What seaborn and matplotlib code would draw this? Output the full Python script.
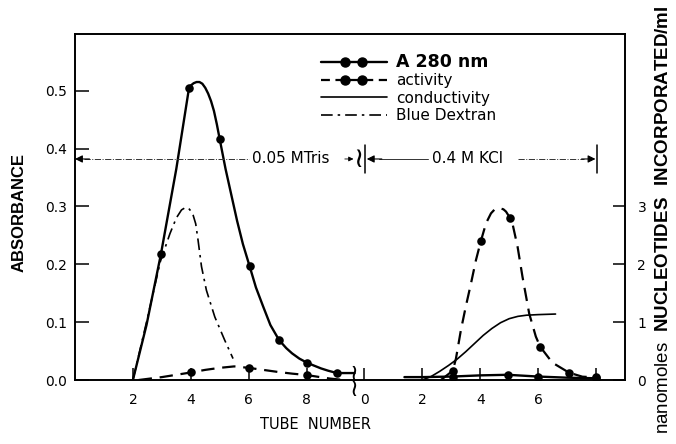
import matplotlib
matplotlib.use("Agg")
import matplotlib.pyplot as plt
import seaborn as sns
from matplotlib.lines import Line2D
from matplotlib.legend_handler import HandlerLine2D, HandlerTuple

# the 0.4 M KCl run is drawn 10 tube widths to the right of the Tris run
KCL_SHIFT = 10

# ---- 0.05 M Tris run -------------------------------------------------
# A 280 nm curve (tube, absorbance) and its measured points
a280_tris_curve_x = [2.0, 2.47, 2.97, 3.5, 3.94, 4.0, 4.1, 4.2, 4.3, 4.4, 4.5, 4.6, 4.7, 4.8, 4.9, 5.0,
                     5.2, 5.4, 5.6, 5.8, 6.03, 6.25, 6.5, 6.75, 7.05, 7.3, 7.5, 7.75, 8.01, 8.25, 8.5,
                     8.75, 9.05, 9.66]
a280_tris_curve_y = [0.0, 0.095, 0.218, 0.365, 0.505, 0.509, 0.513, 0.515, 0.515, 0.512, 0.505, 0.495,
                     0.482, 0.465, 0.442, 0.416, 0.365, 0.32, 0.275, 0.235, 0.197, 0.16, 0.127, 0.095,
                     0.069, 0.055, 0.046, 0.037, 0.030, 0.025, 0.020, 0.016, 0.012, 0.012]
a280_tris_pts_x = [2.97, 3.94, 5.0, 6.03, 7.05, 8.01, 9.05]
a280_tris_pts_y = [0.218, 0.505, 0.416, 0.197, 0.069, 0.030, 0.012]

# activity (nanomoles/ml)
act_tris_curve_x = [2.2, 2.6, 3.0, 3.5, 4.0, 4.5, 5.0, 5.5, 6.0, 6.5, 7.0, 7.5, 8.0, 8.4, 8.8, 9.3]
act_tris_curve_y = [0.0, 0.025, 0.05, 0.09, 0.13, 0.175, 0.21, 0.235, 0.21, 0.175, 0.14, 0.11, 0.086,
                    0.055, 0.025, 0.0]
act_tris_pts_x = [4.0, 6.0, 8.0]
act_tris_pts_y = [0.13, 0.21, 0.086]

# Blue Dextran (absorbance)
dextran_x = [2.0, 2.47, 2.95, 3.28, 3.5, 3.68, 3.78, 3.85, 3.92, 3.97, 4.03, 4.08, 4.17, 4.25, 4.37,
             4.54, 4.83, 5.17, 5.46]
dextran_y = [0.0, 0.1, 0.205, 0.253, 0.28, 0.294, 0.297, 0.298, 0.297, 0.294, 0.29, 0.285, 0.27, 0.242,
             0.196, 0.155, 0.109, 0.069, 0.037]

# ---- 0.4 M KCl run (tube numbers of that run) -------------------------
a280_kcl_curve_x = [1.38, 2.0, 3.05, 4.0, 4.95, 5.98, 7.0, 7.99]
a280_kcl_curve_y = [0.005, 0.005, 0.006, 0.008, 0.009, 0.006, 0.004, 0.003]
a280_kcl_pts_x = [3.05, 4.95, 5.98, 7.99]
a280_kcl_pts_y = [0.005, 0.009, 0.006, 0.003]

act_kcl_curve_x = [2.64, 3.05, 3.16, 3.33, 3.5, 3.68, 3.85, 4.02, 4.2, 4.37, 4.5, 4.66, 4.8, 4.89, 5.03,
                   5.11, 5.29, 5.46, 5.69, 5.92, 6.07, 6.49, 7.07, 7.53, 8.01]
act_kcl_curve_y = [0.0, 0.16, 0.37, 0.86, 1.27, 1.67, 2.07, 2.40, 2.71, 2.88, 2.95, 2.97, 2.95, 2.91,
                   2.80, 2.71, 2.30, 1.78, 1.15, 0.75, 0.575, 0.30, 0.126, 0.057, 0.046]
act_kcl_pts_x = [3.05, 4.02, 5.03, 6.07, 7.07, 8.01]
act_kcl_pts_y = [0.16, 2.40, 2.80, 0.575, 0.126, 0.046]

cond_kcl_x = [2.0, 2.3, 2.6, 2.9, 3.2, 3.5, 3.8, 4.1, 4.4, 4.7, 5.0, 5.3, 5.6, 6.0, 6.6]
cond_kcl_y = [0.0, 0.006, 0.015, 0.025, 0.036, 0.049, 0.063, 0.077, 0.089, 0.099, 0.106, 0.110, 0.112,
              0.113, 0.114]

x_ticks = [2, 4, 6, 8, 10, 12, 14, 16, 18]
x_tick_labels = ["2", "4", "6", "8", "0", "2", "4", "6", ""]
abs_ticks = [0.0, 0.1, 0.2, 0.3, 0.4, 0.5]
nmol_ticks = [0, 1, 2, 3]


def shift(xs):
    return [x + KCL_SHIFT for x in xs]


sns.set_style("ticks")
plt.rcParams["font.family"] = ["DejaVu Sans"]
plt.rcParams["text.color"] = "black"
plt.rcParams["xtick.color"] = "black"
plt.rcParams["ytick.color"] = "black"
plt.rcParams["axes.edgecolor"] = "black"
plt.rcParams["axes.linewidth"] = 1.2
plt.rcParams["mathtext.fontset"] = "custom"
plt.rcParams["mathtext.rm"] = "Liberation Sans"
plt.rcParams["mathtext.bf"] = "Liberation Sans:bold"

fig = plt.figure(figsize=(6.76, 4.44), dpi=100)
ax = fig.add_axes([75 / 676, 64 / 444, 550 / 676, 346 / 444])
ax2 = ax.twinx()

ax.set_xlim(0, 19)
ax.set_ylim(0, 0.598)
ax2.set_ylim(0, 5.98)

line_kw = dict(color="black", sort=False, estimator=None, legend=False)
pt_kw = dict(color="black", s=38, linewidth=0, zorder=5, legend=False)

# A 280 nm
sns.lineplot(x=a280_tris_curve_x, y=a280_tris_curve_y, ax=ax, lw=1.7, **line_kw)
sns.scatterplot(x=a280_tris_pts_x, y=a280_tris_pts_y, ax=ax, **pt_kw)
sns.lineplot(x=shift(a280_kcl_curve_x), y=a280_kcl_curve_y, ax=ax, lw=1.7, **line_kw)
sns.scatterplot(x=shift(a280_kcl_pts_x), y=a280_kcl_pts_y, ax=ax, **pt_kw)

# conductivity and Blue Dextran
sns.lineplot(x=shift(cond_kcl_x), y=cond_kcl_y, ax=ax, lw=1.2, **line_kw)
sns.lineplot(x=dextran_x, y=dextran_y, ax=ax, lw=1.2, linestyle=(0, (7, 3, 1.5, 3)), **line_kw)

# activity on the right axis
dash = (0, (6, 3.5))
sns.lineplot(x=act_tris_curve_x, y=act_tris_curve_y, ax=ax2, lw=1.6, linestyle=dash, **line_kw)
sns.scatterplot(x=act_tris_pts_x, y=act_tris_pts_y, ax=ax2, **pt_kw)
sns.lineplot(x=shift(act_kcl_curve_x), y=act_kcl_curve_y, ax=ax2, lw=1.6, linestyle=dash, **line_kw)
sns.scatterplot(x=shift(act_kcl_pts_x), y=act_kcl_pts_y, ax=ax2, **pt_kw)

# axes and ticks
ax.set_xticks(x_ticks)
ax.set_xticklabels(x_tick_labels)
ax.set_yticks(abs_ticks)
ax.set_yticklabels([f"{v:.1f}" for v in abs_ticks])
ax.tick_params(axis="x", direction="in", length=9, width=1.1, pad=9, labelsize=10)
ax.tick_params(axis="y", direction="in", length=10, width=1.1, pad=6, labelsize=10)
ax2.set_yticks(nmol_ticks)
ax2.set_yticklabels([str(v) for v in nmol_ticks])
ax2.tick_params(axis="y", direction="in", length=9, width=1.1, pad=9, labelsize=10)
ax.set_xlabel("")
ax.set_ylabel("")
ax2.set_ylabel("")

# axis break mark (thin squiggle through the x axis)
ax.text(9.64, -0.003, "\u2240\n\u2240", fontsize=17, linespacing=0.55, ha="center", va="center",
        clip_on=False, family=["DejaVu Sans"])

# buffer brackets
yb = 0.382
grey = "#333333"
arrow = dict(arrowstyle="-|>", color="black", lw=0.8, mutation_scale=11, shrinkA=0, shrinkB=0)
ax.plot([0.3, 6.0], [yb, yb], color=grey, lw=0.7, ls="-.")
ax.annotate("", xy=(0.0, yb), xytext=(0.5, yb), arrowprops=arrow)
ax.text(6.1, yb, "0.05 MTris", fontsize=11, ha="left", va="center")
ax.annotate("", xy=(9.62, yb), xytext=(9.32, yb),
            arrowprops=dict(arrowstyle="-|>", color="black", lw=0.6, mutation_scale=7, shrinkA=0, shrinkB=0))
ax.text(9.8, yb, "\u2240", fontsize=20, ha="center", va="center", family=["DejaVu Sans"])
ax.plot([10.03, 10.03], [yb - 0.025, yb + 0.025], color="black", lw=1.1)
ax.annotate("", xy=(10.08, yb), xytext=(10.6, yb), arrowprops=arrow)
ax.plot([10.5, 12.2], [yb, yb], color=grey, lw=0.7)
ax.text(12.34, yb, "0.4 M KCl", fontsize=11, ha="left", va="center")
ax.plot([15.3, 17.6], [yb, yb], color=grey, lw=0.7, ls="-.")
ax.annotate("", xy=(17.98, yb), xytext=(17.5, yb), arrowprops=arrow)
ax.plot([18.03, 18.03], [yb - 0.025, yb + 0.025], color="black", lw=1.1)

# legend
h_a280_l = Line2D([], [], color="black", lw=1.7)
h_a280_m = Line2D([], [], color="black", ls="none", marker="o", ms=6.5)
h_act_l = Line2D([], [], color="black", lw=1.6, ls=(0, (4, 2.5)))
h_act_m = Line2D([], [], color="black", ls="none", marker="o", ms=6.5)
h_cond = Line2D([], [], color="black", lw=1.2)
h_dex = Line2D([], [], color="black", lw=1.2, ls=(0, (7, 3, 1.5, 3)))
hmap = {
    h_a280_l: HandlerLine2D(numpoints=2, marker_pad=0),
    h_act_l: HandlerLine2D(numpoints=2, marker_pad=0),
    h_cond: HandlerLine2D(numpoints=2, marker_pad=0),
    h_dex: HandlerLine2D(numpoints=2, marker_pad=0),
    h_a280_m: HandlerLine2D(numpoints=2, marker_pad=1.6),
    h_act_m: HandlerLine2D(numpoints=2, marker_pad=1.6),
    tuple: HandlerTuple(ndivide=1),
}
leg = ax.legend([(h_a280_l, h_a280_m), (h_act_l, h_act_m), h_cond, h_dex],
                ["A 280 nm", "activity", "conductivity", "Blue Dextran"],
                handler_map=hmap, loc="upper left", bbox_to_anchor=(0.447, 0.945),
                frameon=False, fontsize=11, handlelength=4.3, handletextpad=0.6,
                labelspacing=0.15, borderpad=0, borderaxespad=0)
leg.get_texts()[0].set_fontsize(12.5)
leg.get_texts()[0].set_fontweight("bold")

# axis titles
fig.text(19 / 676, 0.522, "ABSORBANCE", rotation=90, ha="center", va="center",
         fontsize=12, fontweight="bold", family="Liberation Sans")
fig.text(663 / 676, 0.505, r"nanomoles  $\mathbf{NUCLEOTIDES\ \ INCORPORATED/ml}$",
         rotation=90, ha="center", va="center", fontsize=13.5, family="Liberation Sans")
fig.text(315 / 676, 0.043, "TUBE  NUMBER", ha="center", va="center", fontsize=10.5)

fig.savefig("out.png", dpi=100)
